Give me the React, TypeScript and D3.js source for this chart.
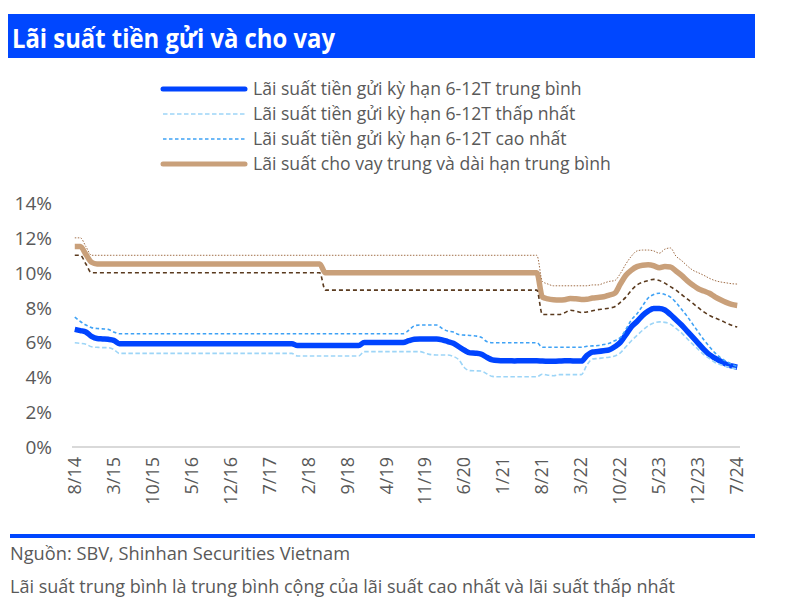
import React from "react";
import * as d3 from "d3";

const monthLabels = ["8/14","3/15","10/15","5/16","12/16","7/17","2/18","9/18","4/19","11/19","6/20","1/21","8/21","3/22","10/22","5/23","12/23","7/24"];
const yTicks = [0, 2, 4, 6, 8, 10, 12, 14];

// Monthly series, Aug 2014 .. Jul 2024 (120 months), in %
const depAvg = [
  6.75, 6.68, 6.60, 6.35, 6.22, 6.20, 6.18, 6.12, 5.93, 5.93,
  5.93, 5.93, 5.93, 5.93, 5.93, 5.93, 5.93, 5.93, 5.93, 5.93,
  5.93, 5.93, 5.93, 5.93, 5.93, 5.93, 5.93, 5.93, 5.93, 5.93,
  5.93, 5.93, 5.93, 5.93, 5.93, 5.93, 5.93, 5.93, 5.93, 5.93,
  5.82, 5.82, 5.82, 5.82, 5.82, 5.82, 5.82, 5.82, 5.82, 5.82,
  5.82, 5.82, 6.00, 6.00, 6.00, 6.00, 6.00, 6.00, 6.00, 6.00,
  6.10, 6.18, 6.20, 6.20, 6.20, 6.20, 6.15, 6.05, 5.95, 5.75,
  5.55, 5.40, 5.38, 5.33, 5.15, 5.00, 4.96, 4.95, 4.95, 4.94,
  4.95, 4.95, 4.95, 4.95, 4.93, 4.92, 4.92, 4.93, 4.95, 4.95,
  4.93, 4.93, 5.25, 5.45, 5.48, 5.52, 5.57, 5.75, 6.00, 6.45,
  6.90, 7.20, 7.55, 7.80, 7.95, 7.95, 7.86, 7.60, 7.30, 7.00,
  6.65, 6.30, 5.95, 5.60, 5.30, 5.10, 4.92, 4.75, 4.65, 4.58,
];
const depMin = [
  5.98, 5.95, 5.90, 5.75, 5.72, 5.70, 5.70, 5.60, 5.37, 5.37,
  5.37, 5.37, 5.37, 5.37, 5.37, 5.37, 5.37, 5.37, 5.37, 5.37,
  5.37, 5.37, 5.37, 5.37, 5.37, 5.37, 5.37, 5.37, 5.37, 5.37,
  5.37, 5.37, 5.37, 5.37, 5.37, 5.37, 5.37, 5.37, 5.37, 5.37,
  5.22, 5.22, 5.22, 5.22, 5.22, 5.22, 5.22, 5.22, 5.22, 5.22,
  5.22, 5.22, 5.47, 5.47, 5.47, 5.47, 5.47, 5.47, 5.47, 5.47,
  5.47, 5.47, 5.47, 5.38, 5.30, 5.28, 5.28, 5.28, 5.20, 5.00,
  4.55, 4.38, 4.37, 4.36, 4.20, 4.05, 4.03, 4.03, 4.03, 4.03,
  4.03, 4.03, 4.03, 4.03, 4.17, 4.12, 4.09, 4.15, 4.15, 4.15,
  4.15, 4.15, 4.70, 5.05, 5.08, 5.12, 5.15, 5.22, 5.40, 5.75,
  6.10, 6.40, 6.70, 6.95, 7.12, 7.18, 7.15, 7.05, 6.80, 6.55,
  6.22, 5.90, 5.60, 5.30, 5.08, 4.85, 4.72, 4.62, 4.53, 4.48,
];
const depMax = [
  7.45, 7.20, 7.00, 6.85, 6.80, 6.78, 6.75, 6.60, 6.50, 6.50,
  6.50, 6.50, 6.50, 6.50, 6.50, 6.50, 6.50, 6.50, 6.50, 6.50,
  6.50, 6.50, 6.50, 6.50, 6.50, 6.50, 6.50, 6.50, 6.50, 6.50,
  6.50, 6.50, 6.50, 6.50, 6.50, 6.50, 6.50, 6.50, 6.50, 6.50,
  6.50, 6.50, 6.50, 6.50, 6.50, 6.50, 6.50, 6.50, 6.50, 6.50,
  6.50, 6.50, 6.50, 6.50, 6.50, 6.50, 6.50, 6.50, 6.50, 6.50,
  6.70, 6.95, 7.00, 7.00, 7.00, 7.00, 6.80, 6.65, 6.60, 6.45,
  6.42, 6.40, 6.37, 6.30, 6.05, 5.98, 5.98, 5.98, 5.98, 5.98,
  5.98, 5.98, 5.98, 5.98, 5.72, 5.72, 5.72, 5.72, 5.72, 5.72,
  5.72, 5.72, 5.78, 5.80, 5.82, 5.88, 5.95, 6.10, 6.28, 6.75,
  7.30, 7.65, 8.10, 8.55, 8.75, 8.82, 8.75, 8.60, 8.30, 7.90,
  7.50, 7.05, 6.60, 6.15, 5.76, 5.40, 5.12, 4.92, 4.75, 4.62,
];
const lendAvg = [
  11.50, 11.50, 11.05, 10.60, 10.50, 10.50, 10.50, 10.50, 10.50, 10.50,
  10.50, 10.50, 10.50, 10.50, 10.50, 10.50, 10.50, 10.50, 10.50, 10.50,
  10.50, 10.50, 10.50, 10.50, 10.50, 10.50, 10.50, 10.50, 10.50, 10.50,
  10.50, 10.50, 10.50, 10.50, 10.50, 10.50, 10.50, 10.50, 10.50, 10.50,
  10.50, 10.50, 10.50, 10.50, 10.50, 10.00, 10.00, 10.00, 10.00, 10.00,
  10.00, 10.00, 10.00, 10.00, 10.00, 10.00, 10.00, 10.00, 10.00, 10.00,
  10.00, 10.00, 10.00, 10.00, 10.00, 10.00, 10.00, 10.00, 10.00, 10.00,
  10.00, 10.00, 10.00, 10.00, 10.00, 10.00, 10.00, 10.00, 10.00, 10.00,
  10.00, 10.00, 10.00, 10.00, 8.60, 8.50, 8.45, 8.43, 8.45, 8.52,
  8.50, 8.47, 8.48, 8.55, 8.58, 8.62, 8.72, 8.82, 9.35, 9.85,
  10.15, 10.35, 10.43, 10.45, 10.40, 10.28, 10.35, 10.33, 10.10, 9.85,
  9.55, 9.30, 9.08, 8.95, 8.82, 8.62, 8.45, 8.30, 8.18, 8.12,
];
const lendMax = [
  12.00, 12.00, 11.50, 11.00, 11.00, 11.00, 11.00, 11.00, 11.00, 11.00,
  11.00, 11.00, 11.00, 11.00, 11.00, 11.00, 11.00, 11.00, 11.00, 11.00,
  11.00, 11.00, 11.00, 11.00, 11.00, 11.00, 11.00, 11.00, 11.00, 11.00,
  11.00, 11.00, 11.00, 11.00, 11.00, 11.00, 11.00, 11.00, 11.00, 11.00,
  11.00, 11.00, 11.00, 11.00, 11.00, 11.00, 11.00, 11.00, 11.00, 11.00,
  11.00, 11.00, 11.00, 11.00, 11.00, 11.00, 11.00, 11.00, 11.00, 11.00,
  11.00, 11.00, 11.00, 11.00, 11.00, 11.00, 11.00, 11.00, 11.00, 11.00,
  11.00, 11.00, 11.00, 11.00, 11.00, 11.00, 11.00, 11.00, 11.00, 11.00,
  11.00, 11.00, 11.00, 11.00, 9.50, 9.35, 9.25, 9.25, 9.25, 9.25,
  9.25, 9.25, 9.25, 9.30, 9.30, 9.40, 9.50, 9.55, 9.95, 10.50,
  10.95, 11.25, 11.30, 11.30, 11.25, 11.12, 11.35, 11.42, 10.95, 10.70,
  10.40, 10.15, 10.00, 9.85, 9.68, 9.55, 9.47, 9.42, 9.37, 9.35,
];
const lendMin = [
  11.00, 11.00, 10.50, 10.00, 10.00, 10.00, 10.00, 10.00, 10.00, 10.00,
  10.00, 10.00, 10.00, 10.00, 10.00, 10.00, 10.00, 10.00, 10.00, 10.00,
  10.00, 10.00, 10.00, 10.00, 10.00, 10.00, 10.00, 10.00, 10.00, 10.00,
  10.00, 10.00, 10.00, 10.00, 10.00, 10.00, 10.00, 10.00, 10.00, 10.00,
  10.00, 10.00, 10.00, 10.00, 10.00, 9.00, 9.00, 9.00, 9.00, 9.00,
  9.00, 9.00, 9.00, 9.00, 9.00, 9.00, 9.00, 9.00, 9.00, 9.00,
  9.00, 9.00, 9.00, 9.00, 9.00, 9.00, 9.00, 9.00, 9.00, 9.00,
  9.00, 9.00, 9.00, 9.00, 9.00, 9.00, 9.00, 9.00, 9.00, 9.00,
  9.00, 9.00, 9.00, 9.00, 7.60, 7.60, 7.60, 7.60, 7.70, 7.85,
  7.80, 7.72, 7.75, 7.82, 7.88, 7.92, 7.97, 8.05, 8.30, 8.60,
  9.00, 9.30, 9.45, 9.55, 9.62, 9.55, 9.40, 9.20, 9.00, 8.75,
  8.50, 8.25, 8.00, 7.75, 7.55, 7.40, 7.28, 7.12, 6.98, 6.88,
];

const legendLabels = [
  "Lãi suất tiền gửi kỳ hạn 6-12T trung bình",
  "Lãi suất tiền gửi kỳ hạn 6-12T thấp nhất",
  "Lãi suất tiền gửi kỳ hạn 6-12T cao nhất",
  "Lãi suất cho vay trung và dài hạn trung bình",
];

const FONT = "'Open Sans', 'Noto Sans', sans-serif";
const TEXT = "#595959";

export default function App() {
  const W = 795, H = 613;
  const left = 72, right = 740, top = 203, bottom = 447;
  const idx = d3.range(depAvg.length);
  const x = d3.scalePoint<number>().domain(idx).range([left, right]).padding(0.5);
  const y = d3.scaleLinear().domain([0, 14]).range([bottom, top]);
  const line = (data: number[]) =>
    d3.line<number>().x((_, i) => x(i) as number).y((v) => y(v)).curve(d3.curveMonotoneX)(data) || "";

  const series = [
    { data: depAvg, color: "#0044ff", width: 5.5, dash: undefined as string | undefined },
    { data: lendAvg, color: "#c9a07a", width: 5.5, dash: undefined },
    { data: lendMax, color: "#a06e48", width: 1, dash: "1.5 1.5" },
    { data: lendMin, color: "#5a3a1e", width: 1.6, dash: "4 3" },
    { data: depMin, color: "#9dd5f7", width: 1.6, dash: "4.5 2.5" },
    { data: depMax, color: "#3fa2f5", width: 1.6, dash: "3.5 2.5" },
  ];
  const legend = [
    { color: "#0044ff", width: 5, dash: undefined as string | undefined },
    { color: "#9dd5f7", width: 1.6, dash: "4.5 2.5" },
    { color: "#3fa2f5", width: 1.6, dash: "3.5 2.5" },
    { color: "#c9a07a", width: 5, dash: undefined },
  ];
  const labelIdx = monthLabels.map((_, k) => k * 7);

  return (
    <svg width={W} height={H} style={{ position: "absolute", left: 0, top: 0, background: "#fff" }}>
      <rect x={0} y={0} width={W} height={H} fill="#fff" />
      <rect x={8} y={14} width={747} height={44} fill="#0047ff" />
      <text x={12} y={48} fill="#fff" fontFamily={FONT} fontWeight={700} fontSize={27}
        textLength={323} lengthAdjust="spacingAndGlyphs">Lãi suất tiền gửi và cho vay</text>

      {legendLabels.map((lab, k) => (
        <g key={k} transform={`translate(0,${89 + k * 25})`}>
          <line x1={163} x2={245} y1={0} y2={0} stroke={legend[k].color} strokeWidth={legend[k].width}
            strokeDasharray={legend[k].dash} strokeLinecap={legend[k].dash ? "butt" : "round"} />
          <text x={253} y={6} fill={TEXT} fontFamily={FONT} fontSize={17.6}>{lab}</text>
        </g>
      ))}

      {yTicks.map((t) => (
        <text key={t} x={52} y={y(t) + 7} textAnchor="end" fill={TEXT} fontFamily={FONT} fontSize={19}>{t}%</text>
      ))}

      <line x1={left} x2={right} y1={bottom} y2={bottom} stroke="#d9d9d9" strokeWidth={2} />

      {labelIdx.map((i, k) => (
        <text key={k} transform={`translate(${(x(i) as number) + 6},${bottom + 10}) rotate(-90)`}
          textAnchor="end" fill={TEXT} fontFamily={FONT} fontSize={18}>{monthLabels[k]}</text>
      ))}

      {series.map((s, k) => (
        <path key={k} d={line(s.data)} fill="none" stroke={s.color} strokeWidth={s.width}
          strokeDasharray={s.dash} strokeLinejoin="round" strokeLinecap="butt" />
      ))}

      <rect x={10} y={534} width={745} height={4} fill="#0047ff" />
      <text x={10} y={560} fill={TEXT} fontFamily={FONT} fontSize={19}
        textLength={340} lengthAdjust="spacingAndGlyphs">Nguồn: SBV, Shinhan Securities Vietnam</text>
      <text x={10} y={593} fill={TEXT} fontFamily={FONT} fontSize={19}
        textLength={665} lengthAdjust="spacingAndGlyphs">Lãi suất trung bình là trung bình cộng của lãi suất cao nhất và lãi suất thấp nhất</text>
    </svg>
  );
}
